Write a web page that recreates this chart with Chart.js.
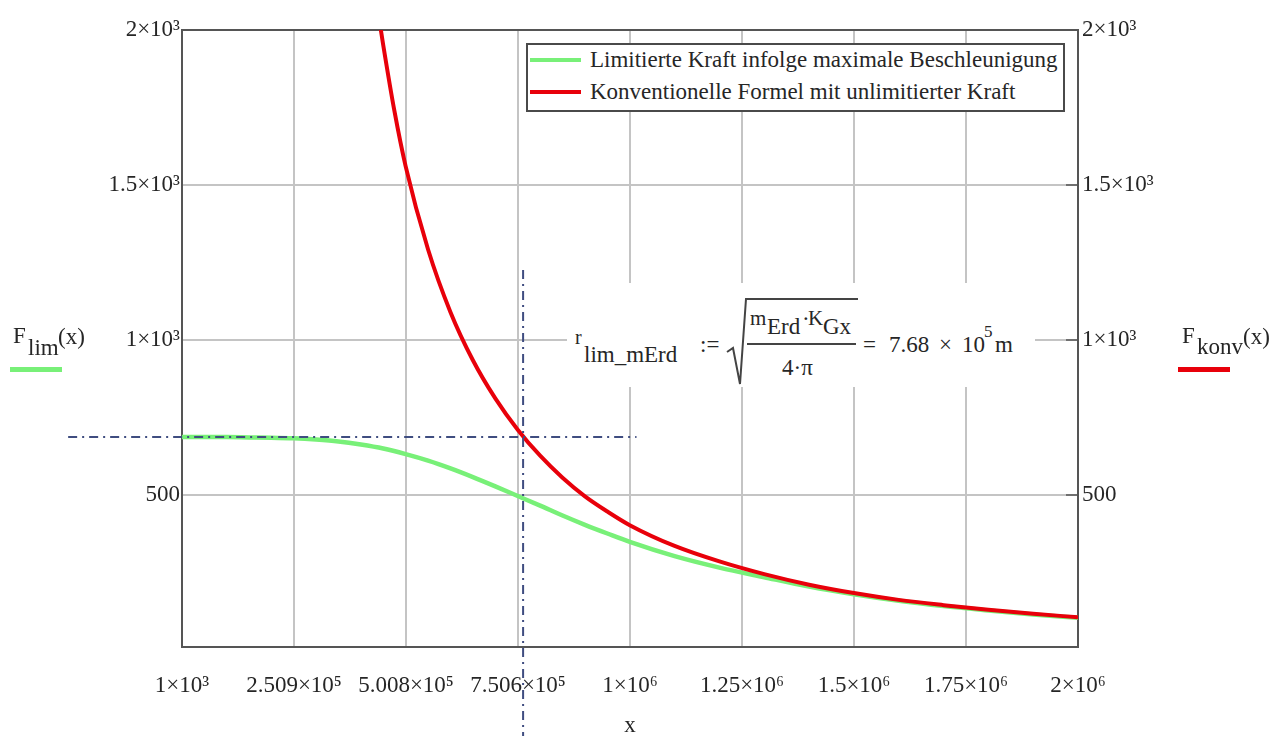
<!DOCTYPE html>
<html><head><meta charset="utf-8">
<script src="https://cdn.jsdelivr.net/npm/chart.js@4"></script>
<style>
html,body{margin:0;padding:0;background:#fff;}
#wrap{position:relative;width:1288px;height:736px;overflow:hidden;font-family:'Liberation Serif','Times New Roman',serif;color:#262626;}
#c{position:absolute;left:0;top:0;}
.t{position:absolute;line-height:1;white-space:nowrap;font-size:23px;}
.s20{font-size:21px;}
.s16{font-size:17px;}
.box{position:absolute;}
</style></head><body>
<div id="wrap">
<canvas id="c" width="1288" height="736"></canvas>

<!-- legend box -->
<div class="box" style="left:526px;top:43px;width:535px;height:65px;border:2px solid #4a4a4a;background:#fff;"></div>
<div class="box" style="left:530px;top:58px;width:51px;height:4px;background:#78f078;"></div>
<div class="box" style="left:530px;top:90px;width:51px;height:4px;background:#e8000a;"></div>
<span class="t" style="left:590px;top:47.7px;">Limitierte Kraft infolge maximale Beschleunigung</span>
<span class="t" style="left:590px;top:79.7px;">Konventionelle Formel mit unlimitierter Kraft</span>

<!-- left axis label -->
<span class="t" style="left:13px;top:323.7px;">F</span>
<span class="t" style="left:28px;top:335.7px;">lim</span>
<span class="t" style="left:58px;top:324.7px;">(x)</span>
<div class="box" style="left:10px;top:367px;width:52px;height:5px;background:#78f078;"></div>

<!-- right axis label -->
<span class="t" style="left:1182px;top:323.7px;">F</span>
<span class="t" style="left:1197px;top:334.7px;">konv</span>
<span class="t" style="left:1243px;top:324.7px;">(x)</span>
<div class="box" style="left:1178px;top:367px;width:52px;height:5px;background:#e8000a;"></div>

<!-- formula -->
<div class="box" style="left:567px;top:283px;width:468px;height:104px;background:#fff;"></div>
<span class="t" style="left:575px;top:326.7px;font-size:20px;">r</span>
<span class="t" style="left:584px;top:342.7px;">lim_mErd</span>
<span class="t" style="left:700px;top:332.7px;">:=</span>
<svg class="box" style="left:0;top:0;" width="1288" height="736">
  <polyline points="727,352 733,348 740,384 746,299 858,299" fill="none" stroke="#444" stroke-width="2"/>
  <line x1="747" y1="344" x2="856" y2="344" stroke="#444" stroke-width="2"/>
</svg>
<span class="t s20" style="left:750px;top:308.4px;">m</span>
<span class="t" style="left:767px;top:314.7px;">Erd</span>
<span class="t" style="left:802px;top:306.7px;">·</span>
<span class="t s20" style="left:808px;top:308.4px;">K</span>
<span class="t" style="left:823px;top:314.7px;">Gx</span>
<span class="t" style="left:782px;top:355.7px;">4·π</span>
<span class="t" style="left:863px;top:332.7px;">=</span>
<span class="t" style="left:889px;top:332.7px;">7.68</span>
<span class="t" style="left:939px;top:332.7px;">×</span>
<span class="t" style="left:962px;top:332.7px;">10</span>
<span class="t s16" style="left:984px;top:322.8px;">5</span>
<span class="t" style="left:995px;top:332.7px;">m</span>
</div>
<script>
// ---- data ----
const limX  = [1e3, 5e4, 1e5, 1.5e5, 2e5, 2.5e5, 3e5, 3.5e5, 4e5, 4.5e5, 5e5, 5.5e5, 6e5, 6.5e5, 7e5, 7.5e5, 8e5, 8.5e5, 9e5, 9.5e5, 1e6, 1.1e6, 1.2e6, 1.3e6, 1.4e6, 1.5e6, 1.6e6, 1.7e6, 1.8e6, 1.9e6, 2e6];
const limF  = [687, 687, 687, 686, 685, 683, 679, 673, 663, 650, 632, 611, 586, 558, 528, 497, 466, 434, 404, 376, 349, 303, 266, 235, 205, 180, 159, 142, 128, 115, 104];
const konvX = [4.3e5, 4.5e5, 4.75e5, 5e5, 5.5e5, 6e5, 6.5e5, 7e5, 7.5e5, 8e5, 8.5e5, 9e5, 9.5e5, 1e6, 1.1e6, 1.2e6, 1.3e6, 1.4e6, 1.5e6, 1.6e6, 1.7e6, 1.8e6, 1.9e6, 2e6];
const konvF = [2136, 1951, 1738, 1560, 1292, 1090, 935, 812, 711, 627, 556, 496, 447, 403, 336, 286, 245, 211, 184, 162, 145, 130, 117, 106];
const markHX = [-2.53e5, 1.015e6];
const markHY = [687, 687];
const markVX = [7.62e5, 7.62e5];
const markVY = [1226, -277];
const xTickValues = [1000, 250875, 500750, 750625, 1000500, 1250375, 1500250, 1750125, 2000000];
const xTickLabels = ['1×10³', '2.509×10⁵', '5.008×10⁵', '7.506×10⁵', '1×10⁶', '1.25×10⁶', '1.5×10⁶', '1.75×10⁶', '2×10⁶'];
const yTickValues = [500, 1000, 1500, 2000];
const yTickLabels = ['500', '1×10³', '1.5×10³', '2×10³'];
const xMin = 1000, xMax = 2000000, yMin = 10, yMax = 2000;

const zip = (xs, ys) => xs.map((x, i) => ({x, y: ys[i]}));

Chart.defaults.font.family = "'Liberation Serif','Times New Roman',serif";
Chart.defaults.font.size = 23;
Chart.defaults.color = '#262626';

const frame = {
  id: 'frame',
  beforeDatasetsDraw(chart) {
    const {ctx, chartArea: a, scales} = chart;
    ctx.save();
    ctx.strokeStyle = '#555';
    ctx.lineWidth = 2;
    ctx.strokeRect(a.left, a.top, a.right - a.left, a.bottom - a.top);
    ctx.lineWidth = 1.5;
    yTickValues.forEach(v => {
      if (v >= yMax) return;
      const y = Math.round(scales.y2.getPixelForValue(v));
      ctx.beginPath(); ctx.moveTo(a.right - 12, y); ctx.lineTo(a.right, y); ctx.stroke();
    });
    ctx.restore();
  }
};

const gridOpts = {color: '#c4c4c4', lineWidth: 2, drawTicks: false};
const markStyle = {borderColor: '#3f4d80', borderWidth: 2, borderDash: [9, 5, 2, 5], pointRadius: 0, clip: false, fill: false};

new Chart(document.getElementById('c'), {
  type: 'line',
  data: {
    datasets: [
      Object.assign({label: 'hmark', data: zip(markHX, markHY)}, markStyle),
      Object.assign({label: 'vmark', data: zip(markVX, markVY)}, markStyle),
      {label: 'Konventionelle Formel mit unlimitierter Kraft', data: zip(konvX, konvF), borderColor: '#e8000a', borderWidth: 4, pointRadius: 0, cubicInterpolationMode: 'monotone', fill: false},
      {label: 'Limitierte Kraft infolge maximale Beschleunigung', data: zip(limX, limF), borderColor: '#78f078', borderWidth: 4.5, pointRadius: 0, cubicInterpolationMode: 'monotone', fill: false}
    ]
  },
  options: {
    responsive: false,
    animation: false,
    events: [],
    layout: {padding: {top: 30, left: 0, right: 0, bottom: 0}},
    plugins: {legend: {display: false}, tooltip: {enabled: false}},
    scales: {
      x: {
        type: 'linear', position: 'bottom', min: xMin, max: xMax,
        afterBuildTicks: s => { s.ticks = xTickValues.map(v => ({value: v})); },
        afterFit: s => { s.height = 89; },
        ticks: {callback: (v, i) => xTickLabels[i], autoSkip: false, maxRotation: 0, padding: 25},
        grid: gridOpts,
        border: {display: false},
        title: {display: true, text: 'x', padding: {top: 0, bottom: -4}}
      },
      y: {
        type: 'linear', position: 'left', min: yMin, max: yMax,
        afterBuildTicks: s => { s.ticks = yTickValues.map(v => ({value: v})); },
        afterFit: s => { s.width = 182; },
        ticks: {callback: (v, i) => yTickLabels[i], padding: 2},
        grid: gridOpts,
        border: {display: false}
      },
      y2: {
        type: 'linear', position: 'right', min: yMin, max: yMax,
        afterBuildTicks: s => { s.ticks = yTickValues.map(v => ({value: v})); },
        afterFit: s => { s.width = 210; },
        ticks: {callback: (v, i) => yTickLabels[i], padding: 4},
        grid: {drawOnChartArea: false, drawTicks: false},
        border: {display: false}
      }
    }
  },
  plugins: [frame]
});
</script>
</body></html>
